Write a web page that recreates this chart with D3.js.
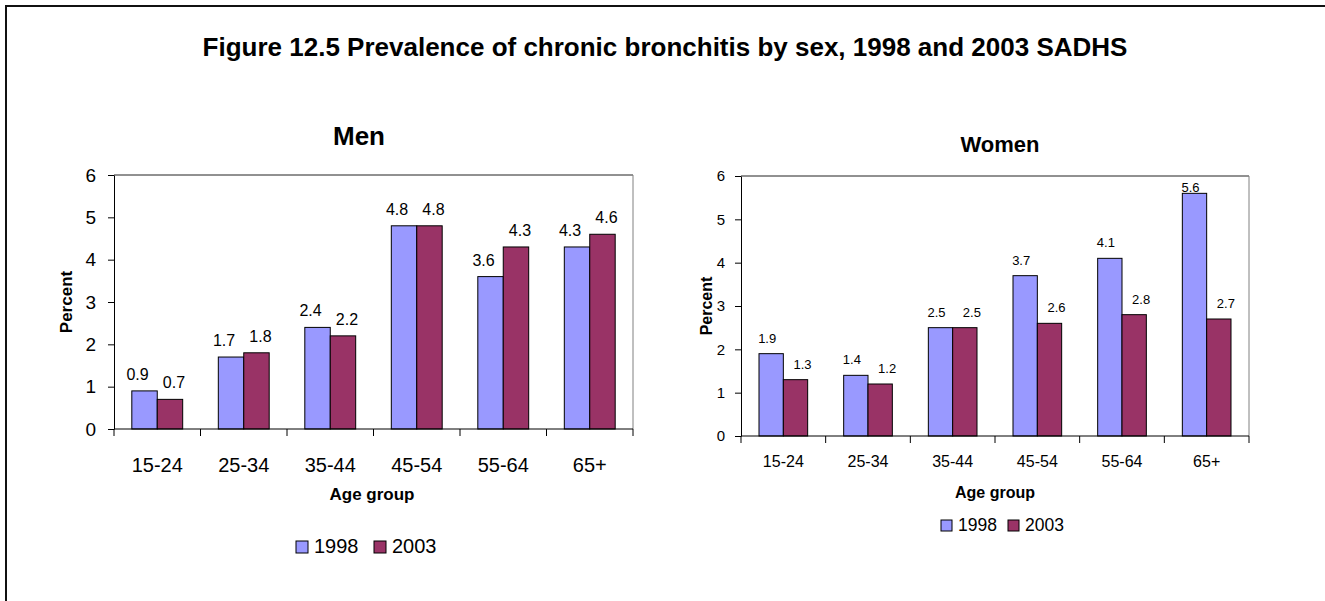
<!DOCTYPE html>
<html>
<head>
<meta charset="utf-8">
<script src="https://cdn.jsdelivr.net/npm/d3@7"></script>
<style>
  html, body { margin: 0; padding: 0; background: #fff; }
  svg { display: block; font-family: "Liberation Sans", Arial, sans-serif; }
</style>
</head>
<body>
<svg id="chart" width="1325" height="601"></svg>
<script>
// Age groups shared by both panels
const ageGroups = ["15-24", "25-34", "35-44", "45-54", "55-64", "65+"];
const surveyYears = ["1998", "2003"];
const yTicks = [0, 1, 2, 3, 4, 5, 6];

// Prevalence of chronic bronchitis (percent)
const men1998 = [0.9, 1.7, 2.4, 4.8, 3.6, 4.3];
const men2003 = [0.7, 1.8, 2.2, 4.8, 4.3, 4.6];
const women1998 = [1.9, 1.4, 2.5, 3.7, 4.1, 5.6];
const women2003 = [1.3, 1.2, 2.5, 2.6, 2.8, 2.7];

const figureTitle = "Figure 12.5 Prevalence of chronic bronchitis by sex, 1998 and 2003 SADHS";
const colors = { "1998": "#9999FF", "2003": "#993366" };

const svg = d3.select("#chart");

// Frame around the whole figure
svg.append("rect")
  .attr("x", 6).attr("y", 6)
  .attr("width", 1400).attr("height", 700)
  .attr("fill", "none").attr("stroke", "#111").attr("stroke-width", 2);

svg.append("text")
  .attr("x", 665).attr("y", 56)
  .attr("text-anchor", "middle")
  .attr("font-size", 26).attr("font-weight", "bold")
  .text(figureTitle);

function drawPanel(p) {
  const g = svg.append("g");
  const x0 = d3.scaleBand().domain(ageGroups).range([p.left, p.right]).padding(0);
  const x1 = d3.scaleBand().domain(surveyYears)
    .range([0, x0.bandwidth()]).paddingInner(0).paddingOuter(p.outerPad);
  const y = d3.scaleLinear().domain([0, 6]).range([p.bottom, p.top]);

  // Plot area border (top and right)
  g.append("line")
    .attr("x1", p.left).attr("x2", p.right).attr("y1", p.top).attr("y2", p.top)
    .attr("stroke", "#222").attr("stroke-width", 1);
  g.append("line")
    .attr("x1", p.right).attr("x2", p.right).attr("y1", p.top).attr("y2", p.bottom)
    .attr("stroke", "#808080").attr("stroke-width", 1);

  // Bars
  const rows = ageGroups.map((a, i) => ({ age: a, vals: [p.a[i], p.b[i]] }));
  const grp = g.selectAll("g.grp").data(rows).join("g")
    .attr("transform", d => `translate(${x0(d.age)},0)`);
  grp.selectAll("rect").data(d => d.vals.map((v, k) => ({ year: surveyYears[k], v })))
    .join("rect")
    .attr("x", d => x1(d.year))
    .attr("width", x1.bandwidth())
    .attr("y", d => y(d.v))
    .attr("height", d => y(0) - y(d.v))
    .attr("fill", d => colors[d.year])
    .attr("stroke", "#000").attr("stroke-width", 1);

  // Value labels
  grp.selectAll("text").data(d => d.vals.map((v, k) => ({ year: surveyYears[k], k, v })))
    .join("text")
    .attr("x", d => x1(d.year) + x1.bandwidth() / 2 + p.nudge[d.k])
    .attr("y", d => Math.max(y(d.v) - 11, p.top + 16))
    .attr("text-anchor", "middle")
    .attr("font-size", p.valueSize)
    .text(d => d3.format(".1f")(d.v));

  // Y axis
  const ya = g.append("g").attr("transform", `translate(${p.left},0)`)
    .call(d3.axisLeft(y).tickValues(yTicks).tickFormat(d3.format("d")).tickSize(6).tickSizeOuter(0).tickPadding(p.tickPad));
  ya.select(".domain").attr("stroke", "#000");
  ya.selectAll("line").attr("stroke", "#000");
  ya.selectAll("text").attr("font-size", p.tickSize).attr("fill", "#000")
    .attr("font-family", "'Liberation Sans', Arial, sans-serif");

  // X axis line with ticks at category boundaries
  g.append("line")
    .attr("x1", p.left).attr("x2", p.right).attr("y1", y(0)).attr("y2", y(0))
    .attr("stroke", "#000");
  const bounds = ageGroups.map(a => x0(a)).concat([x0.range()[1]]);
  g.selectAll("line.xt").data(bounds).join("line")
    .attr("class", "xt")
    .attr("x1", d => d).attr("x2", d => d)
    .attr("y1", y(0)).attr("y2", y(0) + 7)
    .attr("stroke", "#000");
  g.selectAll("text.cat").data(ageGroups).join("text")
    .attr("class", "cat")
    .attr("x", d => x0(d) + x0.bandwidth() / 2)
    .attr("y", p.catY)
    .attr("text-anchor", "middle")
    .attr("font-size", p.catSize)
    .text(d => d);

  // Titles
  g.append("text")
    .attr("x", p.titleX).attr("y", p.titleY)
    .attr("text-anchor", "middle")
    .attr("font-size", p.titleSize).attr("font-weight", "bold")
    .text(p.title);
  g.append("text")
    .attr("transform", `translate(${p.yTitleX},${(p.top + p.bottom) / 2}) rotate(-90)`)
    .attr("text-anchor", "middle")
    .attr("font-size", p.axisTitleSize).attr("font-weight", "bold")
    .text("Percent");
  g.append("text")
    .attr("x", p.xTitleX).attr("y", p.xTitleY)
    .attr("text-anchor", "middle")
    .attr("font-size", p.axisTitleSize).attr("font-weight", "bold")
    .text("Age group");

  // Legend
  const lg = g.append("g");
  surveyYears.forEach((yr, k) => {
    const lx = p.legendX[k];
    lg.append("rect")
      .attr("x", lx).attr("y", p.legendY - p.sw)
      .attr("width", p.sw).attr("height", p.sw)
      .attr("fill", colors[yr]).attr("stroke", "#000");
    lg.append("text")
      .attr("x", lx + p.sw + 6).attr("y", p.legendY)
      .attr("font-size", p.legendSize)
      .text(yr);
  });
}

drawPanel({
  title: "Men", a: men1998, b: men2003,
  left: 114, right: 633, top: 175, bottom: 429,
  outerPad: 0.7, nudge: [-7, 4],
  valueSize: 16, tickSize: 19, tickPad: 12, catSize: 20, catY: 472,
  titleX: 359, titleY: 145, titleSize: 26,
  yTitleX: 72, axisTitleSize: 17, xTitleX: 372, xTitleY: 500,
  legendX: [296, 374], legendY: 553, sw: 12, legendSize: 20
});

drawPanel({
  title: "Women", a: women1998, b: women2003,
  left: 741, right: 1249, top: 176, bottom: 436,
  outerPad: 0.74, nudge: [-4, 7],
  valueSize: 13, tickSize: 15, tickPad: 10, catSize: 16, catY: 467,
  titleX: 1000, titleY: 152, titleSize: 22,
  yTitleX: 712, axisTitleSize: 16, xTitleX: 995, xTitleY: 498,
  legendX: [941, 1008], legendY: 531, sw: 11, legendSize: 17.5
});
</script>
</body>
</html>
